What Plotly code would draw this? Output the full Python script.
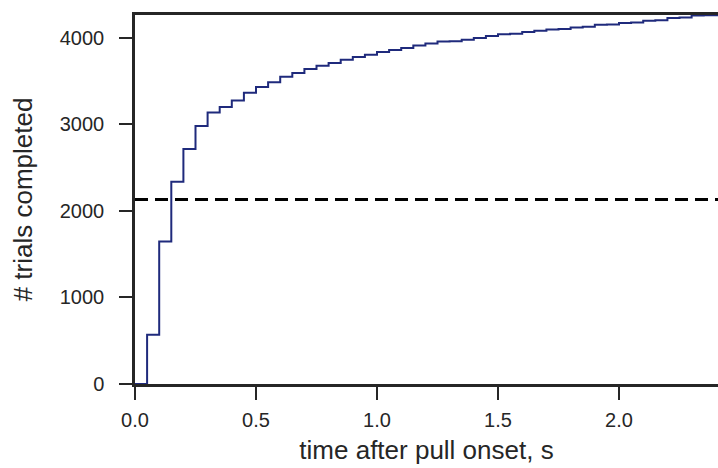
import plotly.graph_objects as go

# Cumulative count of completed trials, binned in 50 ms steps after pull onset
bin_start_s = [0.00, 0.05, 0.10, 0.15, 0.20, 0.25, 0.30, 0.35, 0.40, 0.45,
               0.50, 0.55, 0.60, 0.65, 0.70, 0.75, 0.80, 0.85, 0.90, 0.95,
               1.00, 1.05, 1.10, 1.15, 1.20, 1.25, 1.30, 1.35, 1.40, 1.45,
               1.50, 1.55, 1.60, 1.65, 1.70, 1.75, 1.80, 1.85, 1.90, 1.95,
               2.00, 2.05, 2.10, 2.15, 2.20, 2.25, 2.30, 2.35, 2.40, 2.45]
trials_completed = [0, 570, 1645, 2335, 2715, 2980, 3135, 3200, 3275, 3365,
                    3430, 3485, 3550, 3592, 3638, 3676, 3707, 3746, 3777, 3803,
                    3834, 3857, 3880, 3911, 3934, 3955, 3960, 3977, 3996, 4019,
                    4040, 4045, 4066, 4080, 4095, 4100, 4119, 4125, 4148, 4152,
                    4170, 4175, 4197, 4202, 4228, 4232, 4255, 4258, 4260, 4260]
half_total = 2130

x_ticks = [0.0, 0.5, 1.0, 1.5, 2.0]
x_tick_text = ["0.0", "0.5", "1.0", "1.5", "2.0"]
y_ticks = [0, 1000, 2000, 3000, 4000]
y_tick_text = ["0", "1000", "2000", "3000", "4000"]

axis_color = "#262626"
font_family = "Liberation Sans, Arial, sans-serif"

fig = go.Figure()
fig.add_trace(go.Scatter(
    x=bin_start_s, y=trials_completed, mode="lines",
    line=dict(shape="hv", color="#1f2a7c", width=2),
    showlegend=False, hoverinfo="skip", cliponaxis=True,
))
fig.add_shape(type="line", xref="paper", x0=0, x1=1, yref="y",
              y0=half_total, y1=half_total,
              line=dict(color="black", width=3, dash="13px,7px"))

fig.update_layout(
    width=718, height=468,
    margin=dict(l=135, r=0, t=15, b=84),
    paper_bgcolor="white", plot_bgcolor="white",
    font=dict(family=font_family, color=axis_color),
    xaxis=dict(
        range=[0, 2.409], tickvals=x_ticks, ticktext=x_tick_text,
        showgrid=False, zeroline=False,
        showline=True, linecolor=axis_color, linewidth=2.5, mirror=True,
        ticks="outside", ticklen=13, tickwidth=2, tickcolor=axis_color,
        tickfont=dict(size=20), ticklabelstandoff=3,
        title=dict(text="time after pull onset, s", font=dict(size=26), standoff=12),
    ),
    yaxis=dict(
        range=[0, 4262], tickvals=y_ticks, ticktext=y_tick_text,
        showgrid=False, zeroline=False,
        showline=True, linecolor=axis_color, linewidth=2.5,
        ticks="outside", ticklen=13, tickwidth=2, tickcolor=axis_color,
        tickfont=dict(size=20), ticklabelstandoff=11,
        title=dict(text="# trials completed", font=dict(size=26), standoff=20),
    ),
)

fig.write_html("out.html")
